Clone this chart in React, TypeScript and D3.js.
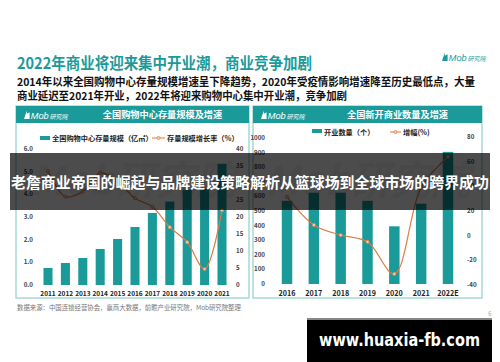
import React from "react";
import * as d3 from "d3";

// left panel: mall stock
const stockYears = ["2011", "2012", "2013", "2014", "2015", "2016", "2017", "2018", "2019", "2020", "2021"];
const stockValues = [0.75, 0.97, 1.19, 1.59, 2.03, 2.56, 3.18, 3.68, 4.2, 4.25, 5.35];
const stockGrowth = [33.5, 26, 27.5, 33, 30.5, 25.5, 23, 17, 12.6, 4.7, 22];
const stockTicks = [0, 1, 2, 3, 4, 5, 6];
const stockGrowthTicks = [0, 5, 10, 15, 20, 25, 30, 35, 40];

// right panel: new openings
const openYears = ["2016", "2017", "2018", "2019", "2020", "2021", "2022E"];
const openCounts = [570, 625, 625, 570, 395, 550, 905];
const openGrowth = [31.5, 8.7, 0.5, -5, -31, 39, 64];
const openTicks = [0, 100, 200, 300, 400, 500, 600, 700, 800, 900, 1000];
const openGrowthTicks = [-40, -20, 0, 20, 40, 60, 80];

const TEAL = "#1a9b9a";
const ORANGE = "#e07b43";
const FONT = "'Noto Sans CJK SC', 'Noto Sans', sans-serif";

const MobLogo = ({ x, y, color, size }) => (
  <g transform={`translate(${x},${y})`} fill={color}>
    <path d={`M0,${size * 0.5} L${size * 0.35},${-size * 0.55} L${size * 0.35},${-size * 0.15} L${size * 0.7},${-size * 0.35} L${size * 0.7},${size * 0.5} Z`} />
    <text x={size * 0.85} y={size * 0.45} fontSize={size * 1.15} fontStyle="italic" fontFamily="'Liberation Sans', sans-serif">Mob</text>
    <text x={size * 3.2} y={size * 0.45} fontSize={size * 0.75} fontStyle="italic" fontFamily={FONT}>研究院</text>
  </g>
);

const Panel = ({ x0, x1, title }) => (
  <g>
    <rect x={x0} y={106} width={x1 - x0} height={192} fill="#fff" stroke="#9fd6d2" strokeWidth={1.4} />
    <rect x={x0} y={106} width={x1 - x0} height={17} fill={TEAL} />
    <MobLogo x={x0 + 8} y={115} color="#fff" size={8} />
    <text x={(x0 + x1) / 2 + 30} y={117.5} textAnchor="middle" fill="#fff" fontSize={9.2} fontWeight="bold" fontFamily={FONT}>{title}</text>
    <text x={(x0 + x1) / 2} y={195} textAnchor="middle" fill="#000" opacity={0.05} fontSize={40} fontWeight="bold" fontStyle="italic" fontFamily={FONT}>Mob研究院</text>
  </g>
);

const App = () => {
  // left scales
  const xL = d3.scaleBand().domain(stockYears).range([39.3, 230.7]).paddingInner(0.48).paddingOuter(0.24);
  const yL = d3.scaleLinear().domain([0, 6]).range([285, 149]);
  const yL2 = d3.scaleLinear().domain([0, 40]).range([285, 149]);
  const lineL = d3
    .line<number>()
    .x((d, i) => xL(stockYears[i]) + xL.bandwidth() / 2)
    .y((d) => yL2(d))
    .curve(d3.curveCatmullRom);

  // right scales
  const xR = d3.scaleBand().domain(openYears).range([273.6, 461.4]).paddingInner(0.61).paddingOuter(0.305);
  const yR = d3.scaleLinear().domain([0, 1000]).range([284, 138]);
  const yR2 = d3.scaleLinear().domain([-40, 80]).range([285, 137]);
  const lineR = d3
    .line<number>()
    .x((d, i) => xR(openYears[i]) + xR.bandwidth() / 2)
    .y((d) => yR2(d))
    .curve(d3.curveCatmullRom);

  const tickStyle = { fontSize: 6.2, fill: "#444", fontFamily: FONT, fontWeight: "bold" as const };
  const catStyle = { fontSize: 7.2, fill: "#222", fontFamily: FONT, fontWeight: "bold" as const };

  return (
    <svg width={500} height={362} style={{ position: "absolute", left: 0, top: 0, background: "#fff" }} fontFamily={FONT}>
      <rect width={500} height={362} fill="#fff" />

      {/* headline */}
      <text x={17} y={69} fill={TEAL} fontSize={15.5} fontWeight="bold" textLength={295} lengthAdjust="spacingAndGlyphs">2022年商业将迎来集中开业潮，商业竞争加剧</text>
      <MobLogo x={442} y={57} color={TEAL} size={8} />
      <text x={17} y={86} fill="#111" fontSize={10.8} fontWeight="bold" textLength={458} lengthAdjust="spacingAndGlyphs">2014年以来全国购物中心存量规模增速呈下降趋势，2020年受疫情影响增速降至历史最低点，大量</text>
      <text x={17} y={100} fill="#111" fontSize={10.8} fontWeight="bold" textLength={330} lengthAdjust="spacingAndGlyphs">商业延迟至2021年开业，2022年将迎来购物中心集中开业潮，竞争加剧</text>

      {/* left panel */}
      <Panel x0={16} x1={249} title="全国购物中心存量规模及增速" />
      <rect x={40} y={136} width={10} height={4} fill={TEAL} />
      <text x={52} y={140.5} fontSize={7.2} fontWeight="bold" fill="#222">全国购物中心存量规模（亿㎡）</text>
      <line x1={152} x2={165} y1={138} y2={138} stroke={ORANGE} strokeWidth={1} />
      <circle cx={158.5} cy={138} r={1.6} fill="#f6cdb2" stroke={ORANGE} strokeWidth={0.7} />
      <text x={167} y={140.5} fontSize={7.2} fontWeight="bold" fill="#222">存量规模增长率（%）</text>

      {stockTicks.map((t) => (
        <text key={"lt" + t} x={33} y={yL(t) + 2} textAnchor="end" {...tickStyle}>{t.toFixed(1)}</text>
      ))}
      {stockGrowthTicks.map((t) => (
        <text key={"lr" + t} x={236} y={yL2(t) + 2} {...tickStyle}>{t}</text>
      ))}
      {stockValues.map((v, i) => (
        <rect key={"lb" + i} x={xL(stockYears[i])} y={yL(v)} width={xL.bandwidth()} height={yL(0) - yL(v)} fill={TEAL} />
      ))}
      <path d={lineL(stockGrowth)} fill="none" stroke={ORANGE} strokeWidth={1.2} />
      {stockGrowth.map((v, i) => (
        <circle key={"lc" + i} cx={xL(stockYears[i]) + xL.bandwidth() / 2} cy={yL2(v)} r={1.6} fill="#f6cdb2" stroke={ORANGE} strokeWidth={0.7} />
      ))}
      {stockYears.map((c) => (
        <text key={"lx" + c} x={xL(c) + xL.bandwidth() / 2} y={296} textAnchor="middle" {...catStyle} fontSize={6.5}>{c}</text>
      ))}

      {/* right panel */}
      <Panel x0={253} x1={482} title="全国新开商业数量及增速" />
      <rect x={312} y={129} width={10} height={4} fill={TEAL} />
      <text x={324} y={135} fontSize={7.2} fontWeight="bold" fill="#222">开业数量（个）</text>
      <line x1={390} x2={401} y1={132} y2={132} stroke={ORANGE} strokeWidth={1} />
      <circle cx={395.5} cy={132} r={1.6} fill="#f6cdb2" stroke={ORANGE} strokeWidth={0.7} />
      <text x={403} y={135} fontSize={7.2} fontWeight="bold" fill="#222">增幅(%)</text>

      {openTicks.map((t) => (
        <text key={"rt" + t} x={265} y={yR(t) + 2} textAnchor="end" {...tickStyle}>{t}</text>
      ))}
      {openGrowthTicks.map((t) => (
        <text key={"rr" + t} x={467} y={yR2(t) + 2} {...tickStyle}>{t}</text>
      ))}
      {openCounts.map((v, i) => (
        <rect key={"rb" + i} x={xR(openYears[i])} y={yR(v)} width={xR.bandwidth()} height={yR(0) - yR(v)} fill={TEAL} />
      ))}
      <path d={lineR(openGrowth)} fill="none" stroke={ORANGE} strokeWidth={1.2} />
      {openGrowth.map((v, i) => (
        <circle key={"rc" + i} cx={xR(openYears[i]) + xR.bandwidth() / 2} cy={yR2(v)} r={1.6} fill="#f6cdb2" stroke={ORANGE} strokeWidth={0.7} />
      ))}
      {openYears.map((c) => (
        <text key={"rx" + c} x={xR(c) + xR.bandwidth() / 2} y={296} textAnchor="middle" {...catStyle}>{c}</text>
      ))}

      {/* source + page */}
      <text x={17} y={310} fontSize={6.4} fill="#777">数据来源：中国连锁经营协会，赢商大数据，前瞻产业研究院，Mob研究院整理</text>
      <text x={490} y={316} fontSize={6} fill="#aaa" textAnchor="middle">6</text>

      {/* overlay banner */}
      <rect x={10} y={153} width={480} height={57} fill="#000" opacity={0.7} />
      <text x={250} y={187.5} textAnchor="middle" fill="#fff" fontSize={15} fontWeight="bold" textLength={478} lengthAdjust="spacingAndGlyphs">老詹商业帝国的崛起与品牌建设策略解析从篮球场到全球市场的跨界成功</text>

      {/* site badge */}
      <rect x={307} y={318} width={185} height={44} fill="#000" />
      <rect x={307} y={318} width={185} height={2} fill="#888" />
      <text x={399.5} y={346} textAnchor="middle" fill="#fff" fontSize={17.5} fontWeight="bold" fontFamily="'DejaVu Sans', sans-serif" textLength={161} lengthAdjust="spacingAndGlyphs">www.huaxia-fb.com</text>
    </svg>
  );
};

export default App;
